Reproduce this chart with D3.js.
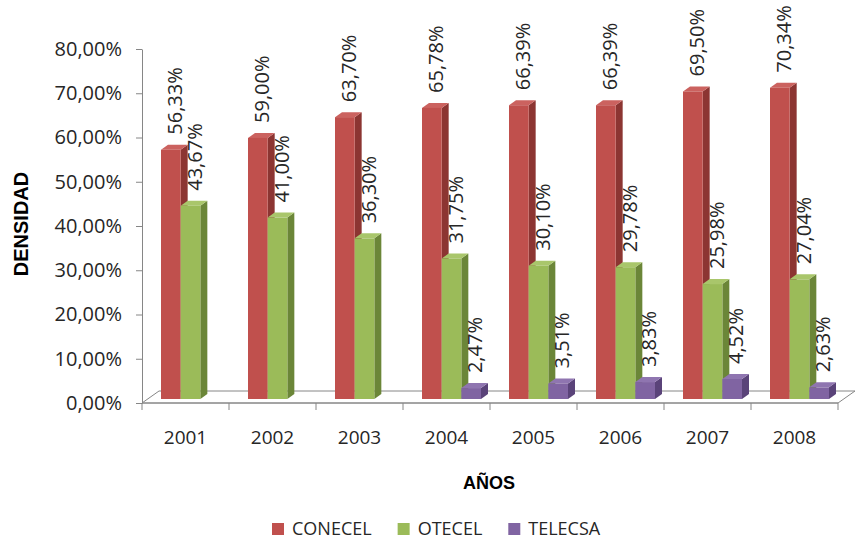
<!DOCTYPE html>
<html>
<head>
<meta charset="utf-8">
<script src="https://cdn.jsdelivr.net/npm/d3@7"></script>
<style>
  body { margin: 0; background: #fff; }
  svg { display: block; font-family: "Open Sans", sans-serif; }
  .axis path, .axis line { stroke: #868686; }
  .axis text { fill: #262626; }
</style>
</head>
<body>
<svg id="chart"></svg>
<script>
// data
var years = ["2001", "2002", "2003", "2004", "2005", "2006", "2007", "2008"];
var series = ["CONECEL", "OTECEL", "TELECSA"];
var conecel = [56.33, 59.00, 63.70, 65.78, 66.39, 66.39, 69.50, 70.34];
var otecel = [43.67, 41.00, 36.30, 31.75, 30.10, 29.78, 25.98, 27.04];
var telecsa = [null, null, null, 2.47, 3.51, 3.83, 4.52, 2.63];
var yTicks = [0, 10, 20, 30, 40, 50, 60, 70, 80];

var colors = {
    CONECEL: {front: "#C0504D", side: "#8C3532", top: "#CB625F"},
    OTECEL: {front: "#9BBB59", side: "#6B8638", top: "#A9C66B"},
    TELECSA: {front: "#8064A2", side: "#5A4379", top: "#8F75B0"}
};

var width = 856, height = 541;
var svg = d3.select('svg#chart')
    .attr('width', width)
    .attr('height', height);

var x = d3.scaleBand().domain(years).range([142, 838]);
var xSub = d3.scaleBand().domain(series).range([19, 78]);
var y = d3.scaleLinear().domain([0, 80]).range([403, 49]);

// 3d offsets
var floorDx = 17, floorDy = -12;
var barDx = 7, barDy = -5;
var barShift = -4;  // bars sit a bit behind the front plane

// floor
var x0 = x.range()[0], x1 = x.range()[1], y0 = y(0);
svg.append('path')
    .attr('d', 'M' + x0 + ',' + y0 + 'L' + x1 + ',' + y0 + 'L' + (x1 + floorDx) + ',' + (y0 + floorDy) +
        'L' + (x0 + floorDx) + ',' + (y0 + floorDy) + 'Z')
    .attr('fill', 'none')
    .attr('stroke', '#868686')
    .attr('stroke-width', 1);

// y axis
var yAxis = svg.append('g')
    .attr('class', 'axis')
    .attr('transform', 'translate(' + x0 + ',0)')
    .call(d3.axisLeft(y)
        .tickValues(yTicks)
        .tickSizeInner(6)
        .tickSizeOuter(0)
        .tickPadding(14)
        .tickFormat(d => d3.format('.2f')(d).replace('.', ',') + '%'))
    .attr('font-family', null)
    .attr('font-size', null);
yAxis.selectAll('text').style('font-size', '20px');

// x axis: labels in band centres, ticks on band edges
var xAxis = svg.append('g')
    .attr('class', 'axis')
    .attr('transform', 'translate(0,' + y0 + ')')
    .call(d3.axisBottom(x).tickSize(0).tickPadding(28))
    .attr('font-family', null)
    .attr('font-size', null);
xAxis.select('.domain').remove();
xAxis.selectAll('text').style('font-size', '19px');

svg.append('line')
    .attr('x1', x0).attr('x2', x1)
    .attr('y1', y0).attr('y2', y0)
    .attr('stroke', '#868686');

var edges = years.map(d => x(d)).concat([x1]);
svg.selectAll('line.xtick')
    .data(edges)
    .enter().append('line')
    .attr('class', 'xtick')
    .attr('x1', d => d).attr('x2', d => d)
    .attr('y1', y0).attr('y2', y0 + 7)
    .attr('stroke', '#868686');

// bars
var rows = [];
years.forEach((yr, i) => {
    rows.push({year: yr, s: 'CONECEL', v: conecel[i]});
    rows.push({year: yr, s: 'OTECEL', v: otecel[i]});
    rows.push({year: yr, s: 'TELECSA', v: telecsa[i]});
});
rows = rows.filter(d => d.v !== null);

var bw = xSub.bandwidth();
var bars = svg.append('g').selectAll('g')
    .data(rows)
    .enter().append('g');

bars.each(function(d){
    var g = d3.select(this);
    var bx = x(d.year) + xSub(d.s);
    var top = y(d.v) + barShift;
    var base = y(0) + barShift;
    var c = colors[d.s];
    // side
    g.append('path')
        .attr('d', 'M' + (bx + bw) + ',' + base + 'L' + (bx + bw) + ',' + top +
            'L' + (bx + bw + barDx) + ',' + (top + barDy) + 'L' + (bx + bw + barDx) + ',' + (base + barDy) + 'Z')
        .attr('fill', c.side);
    // top
    g.append('path')
        .attr('d', 'M' + bx + ',' + top + 'L' + (bx + barDx) + ',' + (top + barDy) +
            'L' + (bx + bw + barDx) + ',' + (top + barDy) + 'L' + (bx + bw) + ',' + top + 'Z')
        .attr('fill', c.top);
    // front
    g.append('rect')
        .attr('x', bx)
        .attr('y', top)
        .attr('width', bw)
        .attr('height', base - top)
        .attr('fill', c.front);
});

// value labels
svg.append('g').selectAll('text')
    .data(rows)
    .enter().append('text')
    .attr('transform', d => 'translate(' + (x(d.year) + xSub(d.s) + bw / 2 + 4) + ',' +
        (y(d.v) + barShift - 15) + ') rotate(-90)')
    .attr('dy', '0.35em')
    .style('font-size', '20px')
    .style('fill', '#262626')
    .text(d => d3.format('.2f')(d.v).replace('.', ',') + '%');

// axis titles
svg.append('text')
    .attr('transform', 'translate(21,224) rotate(-90)')
    .attr('text-anchor', 'middle')
    .attr('dy', '0.35em')
    .style('font-family', '"Liberation Sans", Arial, sans-serif')
    .style('font-weight', 'bold')
    .style('font-size', '20px')
    .text('DENSIDAD');

svg.append('text')
    .attr('x', 489)
    .attr('y', 489)
    .attr('text-anchor', 'middle')
    .style('font-family', '"Liberation Sans", Arial, sans-serif')
    .style('font-weight', 'bold')
    .style('font-size', '18px')
    .text('AÑOS');

// legend
var legend = svg.append('g');
var lx = 272;
series.forEach(s => {
    legend.append('rect')
        .attr('x', lx).attr('y', 523)
        .attr('width', 12).attr('height', 12)
        .attr('fill', colors[s].front);
    var t = legend.append('text')
        .attr('x', lx + 20)
        .attr('y', 535)
        .style('font-size', '18px')
        .style('fill', '#262626')
        .text(s);
    lx += 20 + t.node().getComputedTextLength() + 26;
});
</script>
</body>
</html>
